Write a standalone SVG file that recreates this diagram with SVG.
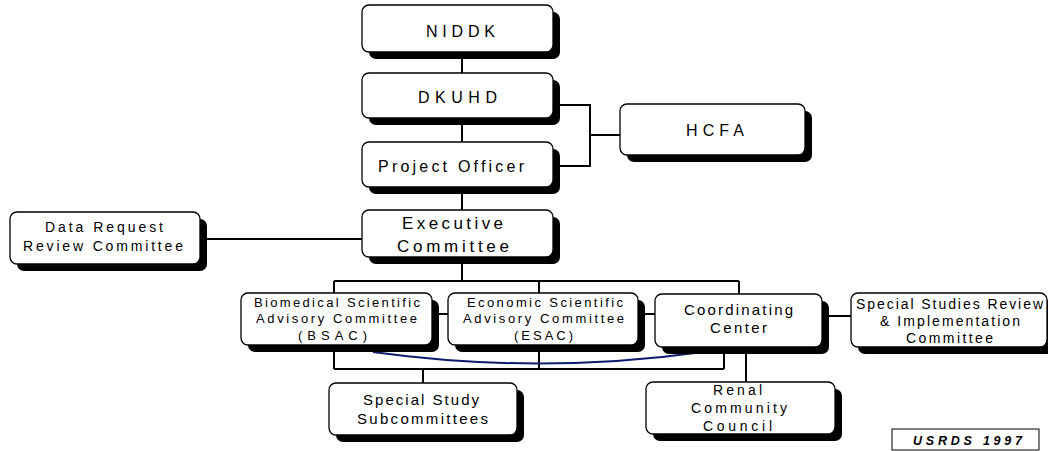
<svg xmlns="http://www.w3.org/2000/svg" width="1048" height="451" viewBox="0 0 1048 451">
<style>
.sh{fill:#000}
.bx{fill:#fff;stroke:#000;stroke-width:1.3}
.ln{stroke:#000;stroke-width:2;fill:none}
.cv{stroke:#0d1b6b;stroke-width:2;fill:none}
text{font-family:"Liberation Sans",Arial,sans-serif;fill:#000}
.t16{font-size:16px}.t17{font-size:17px}.t15{font-size:15px}.t14{font-size:14px}.t13{font-size:13px}
.us{font-size:12.5px;font-weight:bold;font-style:italic}
</style>
<rect width="1048" height="451" fill="#fff"/>
<g id="connectors">
<path class="ln" d="M462 52V73M462 118V142M462 187V210"/>
<path class="ln" d="M555 105H590V166H555M590 135H620"/>
<path class="ln" d="M199 239H362"/>
<path class="ln" d="M462 257V281M334 281H739M334 281V369M539 281V369M739 281V294"/>
<path class="ln" d="M334 369H724M724 347V369M423 369V383"/>
<path class="ln" d="M432 314H448M638 314H655M822 316H851M746 347V382"/>
<path class="cv" d="M373 352Q539 375 703 352"/>
</g>
<g id="niddk"><rect class="sh" x="369" y="12" width="191" height="47" rx="7"/><rect class="bx" x="362" y="5" width="191" height="47" rx="7"/><text class="t16" x="426" y="37" textLength="69" lengthAdjust="spacing">NIDDK</text></g>
<g id="dkuhd"><rect class="sh" x="369" y="80" width="191" height="45" rx="7"/><rect class="bx" x="362" y="73" width="191" height="45" rx="7"/><text class="t16" x="418" y="103" textLength="79" lengthAdjust="spacing">DKUHD</text></g>
<g id="project-officer"><rect class="sh" x="369" y="149" width="191" height="45" rx="7"/><rect class="bx" x="362" y="142" width="191" height="45" rx="7"/><text class="t16" x="378" y="172" textLength="146" lengthAdjust="spacing">Project Officer</text></g>
<g id="hcfa"><rect class="sh" x="627" y="111" width="185" height="51" rx="7"/><rect class="bx" x="620" y="104" width="185" height="51" rx="7"/><text class="t16" x="686" y="136" textLength="58" lengthAdjust="spacing">HCFA</text></g>
<g id="data-request"><rect class="sh" x="17" y="219" width="190" height="52" rx="7"/><rect class="bx" x="10" y="212" width="190" height="52" rx="7"/><text class="t14" x="45" y="232" textLength="118" lengthAdjust="spacing">Data Request</text><text class="t14" x="23" y="251" textLength="160" lengthAdjust="spacing">Review Committee</text></g>
<g id="executive"><rect class="sh" x="369" y="217" width="191" height="47" rx="7"/><rect class="bx" x="362" y="210" width="191" height="47" rx="7"/><text class="t17" x="402" y="229" textLength="101" lengthAdjust="spacing">Executive</text><text class="t17" x="397" y="252" textLength="112" lengthAdjust="spacing">Committee</text></g>
<g id="bsac"><rect class="sh" x="248" y="300" width="191" height="52" rx="7"/><rect class="bx" x="241" y="293" width="191" height="52" rx="7"/><text class="t13" x="254" y="307" textLength="166" lengthAdjust="spacing">Biomedical Scientific</text><text class="t13" x="256" y="323" textLength="161" lengthAdjust="spacing">Advisory Committee</text><text class="t13" x="298" y="340" textLength="69" lengthAdjust="spacing">(BSAC)</text></g>
<g id="esac"><rect class="sh" x="455" y="300" width="190" height="52" rx="7"/><rect class="bx" x="448" y="293" width="190" height="52" rx="7"/><text class="t13" x="467" y="307" textLength="156" lengthAdjust="spacing">Economic Scientific</text><text class="t13" x="463" y="323" textLength="161" lengthAdjust="spacing">Advisory Committee</text><text class="t13" x="514" y="340" textLength="59" lengthAdjust="spacing">(ESAC)</text></g>
<g id="coordinating"><rect class="sh" x="662" y="301" width="167" height="53" rx="7"/><rect class="bx" x="655" y="294" width="167" height="53" rx="7"/><text class="t15" x="684" y="315" textLength="109" lengthAdjust="spacing">Coordinating</text><text class="t15" x="710" y="333" textLength="57" lengthAdjust="spacing">Center</text></g>
<g id="ssr"><rect class="sh" x="858" y="300" width="196" height="54" rx="7"/><rect class="bx" x="851" y="293" width="196" height="54" rx="7"/><text class="t14" x="856" y="309" textLength="187" lengthAdjust="spacing">Special Studies Review</text><text class="t14" x="880" y="326" textLength="140" lengthAdjust="spacing">&amp; Implementation</text><text class="t14" x="906" y="343" textLength="87" lengthAdjust="spacing">Committee</text></g>
<g id="renal"><rect class="sh" x="653" y="389" width="189" height="52" rx="7"/><rect class="bx" x="646" y="382" width="189" height="52" rx="7"/><text class="t14" x="713" y="395" textLength="49" lengthAdjust="spacing">Renal</text><text class="t14" x="691" y="413" textLength="96" lengthAdjust="spacing">Community</text><text class="t14" x="703" y="431" textLength="69" lengthAdjust="spacing">Council</text></g>
<g id="special-study"><rect class="sh" x="336" y="390" width="188" height="52" rx="7"/><rect class="bx" x="329" y="383" width="188" height="52" rx="7"/><text class="t15" x="363" y="405" textLength="116" lengthAdjust="spacing">Special Study</text><text class="t15" x="357" y="424" textLength="131" lengthAdjust="spacing">Subcommittees</text></g>
<g id="usrds"><rect x="892" y="429" width="147" height="21" fill="#fff" stroke="#000" stroke-width="1"/><text class="us" x="913" y="445" textLength="109" lengthAdjust="spacing">USRDS 1997</text></g>
</svg>
